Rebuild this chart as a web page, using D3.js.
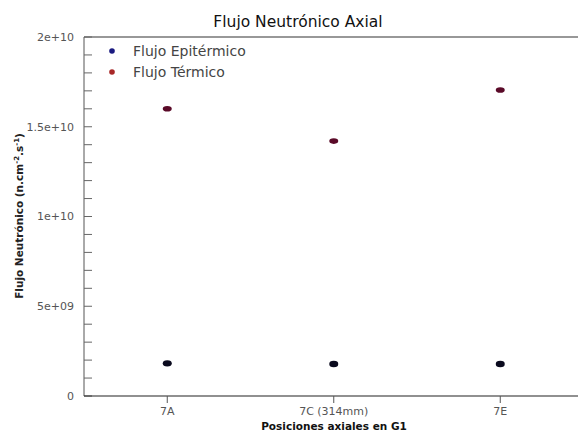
<!DOCTYPE html>
<html><head><meta charset="utf-8">
<script src="https://cdn.jsdelivr.net/npm/d3@7"></script>
<style>body{margin:0;background:#fff}svg{display:block}</style>
</head><body>
<script>
const categories = ["7A", "7C (314mm)", "7E"];
const epitermico = [1.82e9, 1.78e9, 1.78e9];
const termico = [1.60e10, 1.42e10, 1.705e10];
const yTicks = [0, 5e9, 1e10, 1.5e10, 2e10];
const yTickLabels = ["0", "5e+09", "1e+10", "1.5e+10", "2e+10"];
const seriesNames = ["Flujo Epitérmico", "Flujo Térmico"];

const W = 578, H = 432;
const m = {left: 84, top: 37, bottom: 396, right: 583.5};
const svg = d3.select("body").append("svg").attr("width", W).attr("height", H);
const font = "DejaVu Sans, Verdana, sans-serif";

const x = d3.scalePoint().domain(categories).range([m.left, m.right]).padding(0.5);
const y = d3.scaleLinear().domain([0, 2e10]).range([m.bottom, m.top]);

// frame: top line
svg.append("line").attr("x1", m.left).attr("x2", W).attr("y1", m.top).attr("y2", m.top)
  .attr("stroke", "#333").attr("stroke-width", 1.2);

// y axis with inward ticks
const minor = d3.range(0, 2e10 + 1, 1e9);
const gy = svg.append("g").attr("transform", `translate(${m.left},0)`);
gy.append("line").attr("x1", 0).attr("x2", 0).attr("y1", m.top).attr("y2", m.bottom).attr("stroke", "#555");
gy.selectAll("line.t").data(minor).join("line").attr("class", "t")
  .attr("x1", 0).attr("x2", 8).attr("y1", d => y(d)).attr("y2", d => y(d))
  .attr("stroke", "#666").attr("stroke-width", 1);
gy.selectAll("text").data(yTicks).join("text")
  .attr("x", -10).attr("y", d => y(d)).attr("dy", "0.35em")
  .attr("text-anchor", "end").attr("font-family", font).attr("font-size", 11)
  .attr("fill", "#555").text((d, i) => yTickLabels[i]);

// x axis
const gx = svg.append("g").attr("transform", `translate(0,${m.bottom})`);
gx.append("line").attr("x1", m.left).attr("x2", W).attr("stroke", "#222").attr("stroke-width", 1.2);
gx.selectAll("line.t").data(categories).join("line").attr("class", "t")
  .attr("x1", d => x(d)).attr("x2", d => x(d)).attr("y1", 0).attr("y2", 7).attr("stroke", "#555");
gx.selectAll("text").data(categories).join("text")
  .attr("x", d => x(d)).attr("y", 19).attr("text-anchor", "middle")
  .attr("font-family", font).attr("font-size", 11).attr("fill", "#555").text(d => d);

// axis titles
svg.append("text").attr("x", 334).attr("y", 429.5).attr("text-anchor", "middle")
  .attr("font-family", font).attr("font-size", 10.5).attr("font-weight", "bold").attr("fill", "#111")
  .text("Posiciones axiales en G1");
const yt = svg.append("text").attr("transform", "translate(23,216) rotate(-90)")
  .attr("text-anchor", "middle").attr("font-family", font).attr("font-size", 10.5)
  .attr("font-weight", "bold").attr("fill", "#222");
yt.append("tspan").text("Flujo Neutrónico (n.cm");
yt.append("tspan").attr("baseline-shift", "super").attr("font-size", 7).text("-2");
yt.append("tspan").text(".s");
yt.append("tspan").attr("baseline-shift", "super").attr("font-size", 7).text("-1");
yt.append("tspan").text(")");

// title
svg.append("text").attr("x", 298).attr("y", 27).attr("text-anchor", "middle")
  .attr("font-family", font).attr("font-size", 15.5).attr("fill", "#111").text("Flujo Neutrónico Axial");

// points
svg.append("g").selectAll("ellipse").data(categories).join("ellipse")
  .attr("cx", d => x(d)).attr("cy", (d, i) => y(epitermico[i]))
  .attr("rx", 4.5).attr("ry", 3.2).attr("fill", "#0a0a1e");
svg.append("g").selectAll("ellipse").data(categories).join("ellipse")
  .attr("cx", d => x(d)).attr("cy", (d, i) => y(termico[i]))
  .attr("rx", 4.5).attr("ry", 2.8).attr("fill", "#5a0a28");

// legend
const legColors = ["#1a1a80", "#a82828"];
const lg = svg.append("g");
seriesNames.forEach((n, i) => {
  lg.append("circle").attr("cx", 112).attr("cy", 51 + i * 21).attr("r", 2.8).attr("fill", legColors[i]);
  lg.append("text").attr("x", 133).attr("y", 51 + i * 21).attr("dy", "0.38em")
    .attr("font-family", font).attr("font-size", 14).attr("fill", "#444").text(n);
});
</script>
</body></html>
